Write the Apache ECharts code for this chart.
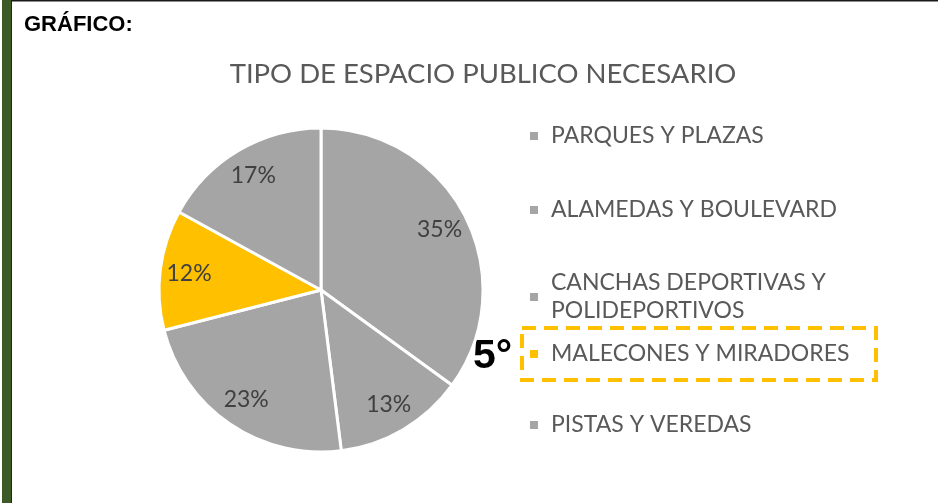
<!DOCTYPE html>
<html>
<head>
<meta charset="utf-8">
<script src="https://cdn.jsdelivr.net/npm/echarts@6/dist/echarts.min.js"></script>
<style>
  html, body { margin: 0; padding: 0; background: #fff; }
  #chart { width: 938px; height: 503px; }
</style>
</head>
<body>
<div id="chart"></div>
<script>
// Tipos de espacio público necesario (porcentaje de respuestas)
const categories = [
  'PARQUES Y PLAZAS',
  'ALAMEDAS Y BOULEVARD',
  'CANCHAS DEPORTIVAS Y POLIDEPORTIVOS',
  'MALECONES Y MIRADORES',
  'PISTAS Y VEREDAS'
];
const percentages = [35, 13, 23, 12, 17];
const highlighted = 'MALECONES Y MIRADORES';

const GRAY = '#A5A5A5';
const GOLD = '#FFC000';
const FONT = 'Lato, "Open Sans", sans-serif';

const pieData = categories.map((name, i) => ({
  name,
  value: percentages[i],
  itemStyle: { color: name === highlighted ? GOLD : GRAY }
}));

// one legend block per entry so the spacing can follow the layout
const legendTops = [117, 191, 264, 335, 406];
const legends = categories.map((name, i) => ({
  orient: 'vertical',
  left: 525,
  top: legendTops[i],
  data: [name],
  icon: 'rect',
  itemWidth: 8,
  itemHeight: 8,
  itemStyle: { borderWidth: 0 },
  selectedMode: false,
  formatter: n => n === 'CANCHAS DEPORTIVAS Y POLIDEPORTIVOS'
    ? 'CANCHAS DEPORTIVAS Y\nPOLIDEPORTIVOS' : n,
  textStyle: {
    fontFamily: FONT,
    fontSize: 23,
    lineHeight: 28,
    color: '#595959',
    padding: [0, 0, 0, 8]
  }
}));

const chart = echarts.init(document.getElementById('chart'), null, { renderer: 'canvas' });
chart.setOption({
  backgroundColor: '#fff',
  animation: false,
  title: [
    {
      text: 'TIPO DE ESPACIO PUBLICO NECESARIO',
      left: 478,
      top: 55,
      textAlign: 'center',
      textStyle: { fontFamily: FONT, fontSize: 27.5, fontWeight: 'normal', color: '#595959' }
    },
    {
      text: 'GRÁFICO:',
      left: 19,
      top: 9,
      textStyle: { fontFamily: 'Liberation Sans, Arial, sans-serif', fontSize: 22, fontWeight: 'bold', color: '#000' }
    }
  ],
  legend: legends,
  series: [
    {
      name: 'Espacio público',
      type: 'pie',
      center: [321, 290],
      radius: [0, 162],
      startAngle: 90,
      clockwise: true,
      silent: true,
      data: pieData,
      itemStyle: { borderColor: '#fff', borderWidth: 3 },
      label: { show: false },
      labelLine: { show: false }
    },
    {
      // transparent ring used only to place the percentage labels
      name: 'Etiquetas',
      type: 'pie',
      center: [321, 290],
      radius: [98, 162],
      startAngle: 90,
      clockwise: true,
      silent: true,
      data: pieData.map(d => ({ name: d.name, value: d.value })),
      itemStyle: { color: 'rgba(0,0,0,0)', borderWidth: 0 },
      label: {
        show: true,
        position: 'inside',
        formatter: p => p.value + '%',
        fontFamily: FONT,
        fontSize: 23,
        color: '#404040'
      },
      labelLine: { show: false }
    }
  ],
  graphic: [
    // page frame: green side strip and top rule
    { type: 'rect', shape: { x: 2, y: 0, width: 9, height: 503 }, style: { fill: '#3B5A25' } },
    { type: 'rect', shape: { x: 11, y: 0, width: 1, height: 503 }, style: { fill: '#1f2a15' } },
    { type: 'rect', shape: { x: 11, y: 0, width: 927, height: 1.5 }, style: { fill: '#1a1a1a' } },
    // dashed highlight around the 5th place item
    {
      type: 'rect',
      shape: { x: 522, y: 328, width: 354, height: 52 },
      style: { fill: 'none', stroke: GOLD, lineWidth: 4, lineDash: [14, 8] }
    },
    {
      type: 'text',
      x: 473,
      y: 357,
      style: {
        text: '5°',
        fontFamily: 'Liberation Sans, Arial, sans-serif',
        fontSize: 41,
        fontWeight: 'bold',
        fill: '#000',
        verticalAlign: 'middle'
      }
    }
  ]
});
</script>
</body>
</html>
